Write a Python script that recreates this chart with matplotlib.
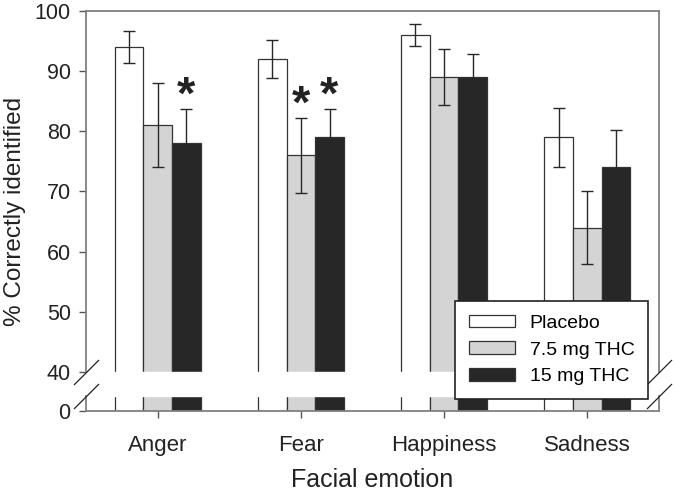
import numpy as np
import matplotlib.pyplot as plt
from matplotlib.transforms import blended_transform_factory

plt.rcParams['font.family'] = ['Liberation Sans', 'DejaVu Sans']

emotions = ['Anger', 'Fear', 'Happiness', 'Sadness']
groups = ['Placebo', '7.5 mg THC', '15 mg THC']
placebo = [94, 92, 96, 79]
placebo_err = [2.6, 3.1, 1.9, 4.9]
thc75 = [81, 76, 89, 64]
thc75_err = [7.0, 6.2, 4.6, 6.0]
thc15 = [78, 79, 89, 74]
thc15_err = [5.7, 4.7, 3.9, 6.2]
# significant vs placebo: (emotion index, group index)
signif = [(0, 2), (1, 1), (1, 2)]

colors = ['white', '#d4d4d4', '#272727']

# broken y axis: 0..2.5 shown, gap, then 40..100
LOW_TOP, GAP = 2.5, 4.0


def forward(v):
    v = np.asarray(v, dtype=float)
    return np.where(v <= LOW_TOP, v,
                    np.where(v < 40, LOW_TOP + (v - LOW_TOP) * GAP / (40 - LOW_TOP),
                             v - 40 + LOW_TOP + GAP))


def inverse(d):
    d = np.asarray(d, dtype=float)
    return np.where(d <= LOW_TOP, d,
                    np.where(d < LOW_TOP + GAP, LOW_TOP + (d - LOW_TOP) * (40 - LOW_TOP) / GAP,
                             d + 40 - LOW_TOP - GAP))


fig = plt.figure(figsize=(6.75, 4.92), dpi=100)
ax = fig.add_axes([86 / 675, 81 / 492, 573 / 675, 400 / 492])
ax.set_yscale('function', functions=(forward, inverse))
ax.set_ylim(0, 100)
ax.set_xlim(0, 4)

x = np.arange(len(emotions)) + 0.5
width = 0.2
values = [placebo, thc75, thc15]
errors = [placebo_err, thc75_err, thc15_err]
for i, (vals, errs) in enumerate(zip(values, errors)):
    ax.bar(x + (i - 1) * width, vals, width, color=colors[i], edgecolor='#333333',
           linewidth=0.9, label=groups[i], zorder=1)
    ax.errorbar(x + (i - 1) * width, vals, yerr=errs, fmt='none', ecolor='#272727',
                elinewidth=1.0, capsize=4, capthick=1.0, zorder=3)

# white band hiding the broken part of the bars
ax.axhspan(LOW_TOP, 39.9, color='white', zorder=2)

for e, g in signif:
    top = values[g][e] + errors[g][e]
    ax.annotate('*', xy=(x[e] + (g - 1) * width, top), xytext=(0, 0),
                textcoords='offset points', ha='center', va='baseline',
                fontsize=34, fontweight='bold', color='#222222')

for side in ['left', 'right']:
    ax.spines[side].set_visible(False)
ax.spines['top'].set_color('#808080')
ax.spines['bottom'].set_color('#808080')
ax.spines['top'].set_linewidth(1.3)
ax.spines['bottom'].set_linewidth(1.3)

tr = blended_transform_factory(ax.transAxes, ax.transData)
for xs in [0, 1]:
    ax.plot([xs, xs], [40, 100], transform=tr, color='#808080', lw=1.3, clip_on=False)
    ax.plot([xs, xs], [0, LOW_TOP], transform=tr, color='#808080', lw=1.3, clip_on=False)
    ax.plot([xs, xs], [40, LOW_TOP], transform=tr, ls='none', marker=[(-1, -1), (1, 1)],
            ms=18, mew=0.9, color='#222222', clip_on=False)

ax.set_yticks([0, 40, 50, 60, 70, 80, 90, 100])
ax.set_xticks(x)
ax.set_xticklabels(emotions)
ax.tick_params(axis='both', direction='out', length=5, width=1, color='#555555',
               labelsize=15.5, labelcolor='#222222')
ax.tick_params(axis='y', pad=6)
ax.tick_params(axis='x', pad=12, labelsize=16)
ax.minorticks_off()

ax.set_xlabel('Facial emotion', fontsize=18, color='#222222', labelpad=9)
ax.set_ylabel('% Correctly identified', fontsize=17.5, color='#222222', labelpad=6)

leg = ax.legend(loc='lower right', bbox_to_anchor=(0.981, 0.03), fontsize=14,
                frameon=True, fancybox=False, edgecolor='#222222', framealpha=1,
                handlelength=2.4, handleheight=0.62, labelspacing=0.5,
                borderpad=0.7, handletextpad=0.75, borderaxespad=0)
leg.get_frame().set_linewidth(1.2)
leg.set_zorder(5)

fig.savefig('out.png', dpi=100)
